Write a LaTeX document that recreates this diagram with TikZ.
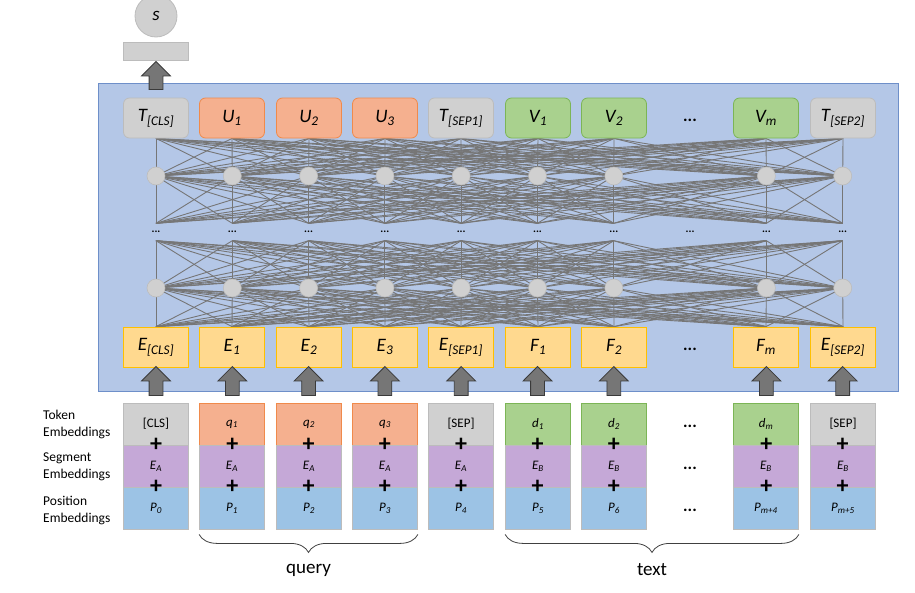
\documentclass[tikz,border=0pt]{standalone}
\usepackage{fontspec}
\setmainfont{Carlito}
\usetikzlibrary{shapes.arrows}
\usetikzlibrary{decorations.pathreplacing}
\usetikzlibrary{backgrounds}

\definecolor{panelblue}{HTML}{B4C7E7}
\definecolor{panelline}{HTML}{6E8FC9}
\definecolor{boxgray}{HTML}{D0D0D0}
\definecolor{linegray}{HTML}{BCBCBC}
\definecolor{qfill}{HTML}{F5B08F}
\definecolor{qline}{HTML}{F08A4B}
\definecolor{dfill}{HTML}{A9D18E}
\definecolor{dline}{HTML}{7CB556}
\definecolor{efill}{HTML}{FFD98F}
\definecolor{eline}{HTML}{FFC000}
\definecolor{segfill}{HTML}{C5A8D7}
\definecolor{posfill}{HTML}{9CC3E5}
\definecolor{wire}{HTML}{767676}
\definecolor{arrowfill}{HTML}{767676}
\definecolor{arrowline}{HTML}{3A3A3A}
\definecolor{bracegray}{HTML}{404040}

\newcommand{\emb}[2]{\textit{#1\textsubscript{#2}}}

\begin{document}
\begin{tikzpicture}[x=1pt, y=-1pt]
	\tikzstyle{grayStyle}=[shape=rectangle, rounded corners=6pt, minimum width=65pt, minimum height=40pt, inner sep=0pt, draw=linegray, fill=boxgray, line width=0.8pt, font=\fontsize{19}{22}\selectfont]
	\tikzstyle{queryStyle}=[grayStyle, draw=qline, fill=qfill]
	\tikzstyle{textStyle}=[grayStyle, draw=dline, fill=dfill]
	\tikzstyle{inputStyle}=[grayStyle, sharp corners, draw=eline, fill=efill]
	\tikzstyle{tokenStyle}=[shape=rectangle, minimum width=65pt, minimum height=42pt, inner sep=0pt, draw=linegray, fill=boxgray, line width=0.8pt, font=\fontsize{13}{15}\selectfont]
	\tikzstyle{tokenQStyle}=[tokenStyle, draw=qline, fill=qfill]
	\tikzstyle{tokenDStyle}=[tokenStyle, draw=dline, fill=dfill]
	\tikzstyle{segStyle}=[tokenStyle, fill=segfill]
	\tikzstyle{posStyle}=[tokenStyle, fill=posfill]
	\tikzstyle{plusStyle}=[inner sep=0pt, font=\fontsize{24}{24}\selectfont\bfseries]
	\tikzstyle{skipStyle}=[inner sep=0pt, font=\fontsize{17}{20}\selectfont\bfseries]
	\tikzstyle{unitStyle}=[shape=circle, minimum size=18pt, inner sep=0pt, draw=linegray, fill=boxgray, line width=0.6pt]
	\tikzstyle{dotsStyle}=[shape=rectangle, minimum height=17pt, inner sep=0pt, font=\fontsize{11}{12}\selectfont\bfseries]
	\tikzstyle{wireStyle}=[draw=wire, line width=0.9pt]
	\tikzstyle{arrowStyle}=[single arrow, rotate=90, minimum height=29pt, minimum width=28pt, single arrow head extend=7.5pt, inner sep=6.5pt, draw=arrowline, fill=arrowfill, line width=0.8pt]
	\tikzstyle{rowLabel}=[anchor=west, align=left, inner sep=0pt, font=\fontsize{13.5}{17}\selectfont]
	\useasboundingbox (0,0) rectangle (915,592);
	% panel
	\begin{pgfonlayer}{background}
	\draw[draw=panelline, fill=panelblue, line width=0.8pt] (98,83) rectangle (898,391);
	\end{pgfonlayer}
	% score
	\node[shape=circle, minimum size=42pt, draw=linegray, fill=boxgray, line width=0.8pt, font=\fontsize{19}{22}\selectfont] (s) at (156,16) {\textit{s}};
	\node[shape=rectangle, minimum width=65pt, minimum height=18pt, draw=linegray, fill=boxgray, line width=0.8pt] (bar) at (156,51) {};
	\node[arrowStyle, minimum height=28pt] (up) at (156,79) {};
	% output row
	\node[grayStyle]  (t0) at (156,118) {\emb{T}{[CLS]}};
	\node[queryStyle] (t1) at (232,118) {\emb{U}{1}};
	\node[queryStyle] (t2) at (309,118) {\emb{U}{2}};
	\node[queryStyle] (t3) at (385,118) {\emb{U}{3}};
	\node[grayStyle]  (t4) at (461,118) {\emb{T}{[SEP1]}};
	\node[textStyle]  (t5) at (538,118) {\emb{V}{1}};
	\node[textStyle]  (t6) at (614,118) {\emb{V}{2}};
	\node[skipStyle]  (t7) at (690,120) {...};
	\node[textStyle]  (t8) at (766,118) {\emb{V}{m}};
	\node[grayStyle]  (t9) at (843,118) {\emb{T}{[SEP2]}};
	% input row
	\node[inputStyle] (e0) at (156,347) {\emb{E}{[CLS]}};
	\node[inputStyle] (e1) at (232,347) {\emb{E}{1}};
	\node[inputStyle] (e2) at (309,347) {\emb{E}{2}};
	\node[inputStyle] (e3) at (385,347) {\emb{E}{3}};
	\node[inputStyle] (e4) at (461,347) {\emb{E}{[SEP1]}};
	\node[inputStyle] (e5) at (538,347) {\emb{F}{1}};
	\node[inputStyle] (e6) at (614,347) {\emb{F}{2}};
	\node[skipStyle]  (e7) at (690,349) {...};
	\node[inputStyle] (e8) at (766,347) {\emb{F}{m}};
	\node[inputStyle] (e9) at (843,347) {\emb{E}{[SEP2]}};
	% hidden layers
	\foreach \i [evaluate=\i as \x using 156+76.3*\i] in {0,1,2,3,4,5,6,8,9}{
		\node[unitStyle] (a\i) at (\x,176) {};
		\node[unitStyle] (b\i) at (\x,288) {};
	}
	\foreach \i [evaluate=\i as \x using 156+76.3*\i] in {0,...,9}{
		\node[dotsStyle] (m\i) at (\x,232) {...};
	}
	\begin{pgfonlayer}{background}
	\foreach \i in {0,1,2,3,4,5,6,8,9}{
		\foreach \j in {0,1,2,3,4,5,6,8,9}{
			\draw[wireStyle] (t\i.south) -- (a\j.center);
			\draw[wireStyle] (a\i.center) -- (m\j.north);
			\draw[wireStyle] (m\i.south) -- (b\j.center);
			\draw[wireStyle] (b\i.center) -- (e\j.north);
		}
	}
	\end{pgfonlayer}
	% embeddings
	\node[tokenStyle]  (k0) at (156,424) {[CLS]};
	\node[tokenQStyle] (k1) at (232,424) {\emb{q}{1}};
	\node[tokenQStyle] (k2) at (309,424) {\emb{q}{2}};
	\node[tokenQStyle] (k3) at (385,424) {\emb{q}{3}};
	\node[tokenStyle]  (k4) at (461,424) {[SEP]};
	\node[tokenDStyle] (k5) at (538,424) {\emb{d}{1}};
	\node[tokenDStyle] (k6) at (614,424) {\emb{d}{2}};
	\node[skipStyle]   (k7) at (690,426) {...};
	\node[tokenDStyle] (k8) at (766,424) {\emb{d}{m}};
	\node[tokenStyle]  (k9) at (843,424) {[SEP]};
	\node[segStyle] (g0) at (156,466) {\emb{E}{A}};
	\node[segStyle] (g1) at (232,466) {\emb{E}{A}};
	\node[segStyle] (g2) at (309,466) {\emb{E}{A}};
	\node[segStyle] (g3) at (385,466) {\emb{E}{A}};
	\node[segStyle] (g4) at (461,466) {\emb{E}{A}};
	\node[segStyle] (g5) at (538,466) {\emb{E}{B}};
	\node[segStyle] (g6) at (614,466) {\emb{E}{B}};
	\node[skipStyle] (g7) at (690,468) {...};
	\node[segStyle] (g8) at (766,466) {\emb{E}{B}};
	\node[segStyle] (g9) at (843,466) {\emb{E}{B}};
	\node[posStyle] (p0) at (156,508) {\emb{P}{0}};
	\node[posStyle] (p1) at (232,508) {\emb{P}{1}};
	\node[posStyle] (p2) at (309,508) {\emb{P}{2}};
	\node[posStyle] (p3) at (385,508) {\emb{P}{3}};
	\node[posStyle] (p4) at (461,508) {\emb{P}{4}};
	\node[posStyle] (p5) at (538,508) {\emb{P}{5}};
	\node[posStyle] (p6) at (614,508) {\emb{P}{6}};
	\node[skipStyle] (p7) at (690,510) {...};
	\node[posStyle] (p8) at (766,508) {\emb{P}{m+4}};
	\node[posStyle] (p9) at (843,508) {\emb{P}{m+5}};
	\foreach \i [evaluate=\i as \x using 156+76.3*\i] in {0,1,2,3,4,5,6,8,9}{
		\node[plusStyle] (x\i) at (\x,445) {+};
		\node[plusStyle] (y\i) at (\x,487) {+};
		\node[arrowStyle] (u\i) at (\x,384.5) {};
	}
	\node[rowLabel] (lt) at (43,424.5) {Token\\Embeddings};
	\node[rowLabel] (ls) at (43,467) {Segment\\Embeddings};
	\node[rowLabel] (lp) at (43,510.5) {Position\\Embeddings};
	% braces
	\draw[decorate, decoration={brace, mirror, amplitude=18pt}, draw=bracegray, line width=0.8pt] ([yshift=-5pt]p1.south west) -- ([yshift=-5pt]p3.south east);
	\draw[decorate, decoration={brace, mirror, amplitude=18pt}, draw=bracegray, line width=0.8pt] ([yshift=-5pt]p5.south west) -- ([yshift=-5pt]p8.south east);
	\node[font=\fontsize{19}{22}\selectfont] (query) at (308.5,570) {query};
	\node[font=\fontsize{19}{22}\selectfont] (text) at (652,570) {text};
\end{tikzpicture}
\end{document}
